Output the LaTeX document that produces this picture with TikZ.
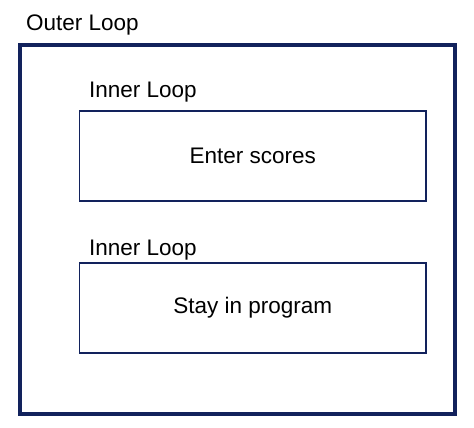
\documentclass[tikz,border=0pt]{standalone}
\usepackage{fontspec}
\setmainfont{Liberation Sans}
\usetikzlibrary{positioning}
\definecolor{navy}{RGB}{18,34,92}

\begin{document}
\begin{tikzpicture}[x=1pt,y=-1pt,font=\fontsize{22.5}{27}\selectfont]
  \tikzstyle{loop}=[rectangle,draw=navy,line width=4pt,minimum width=434.5pt,minimum height=369pt]
  \tikzstyle{task}=[rectangle,draw=navy,line width=1.3pt,minimum width=346.5pt,minimum height=90pt,text=black]
  \tikzstyle{caption}=[anchor=base west,inner sep=0pt,text=black]

  \useasboundingbox (0,0) rectangle (474,428);

  \node[loop]    (outer)  at (237.25,229.5) {};
  \node[task]    (enter)  at (252.75,156) {Enter scores};
  \node[task]    (stay)   at (252.75,308) {Stay in program};

  \node[caption] (outerlbl) at (26,31)  {Outer Loop};
  \node[caption] (innerlbl1) at (89,98) {Inner Loop};
  \node[caption] (innerlbl2) at (89,255) {Inner Loop};
\end{tikzpicture}
\end{document}
